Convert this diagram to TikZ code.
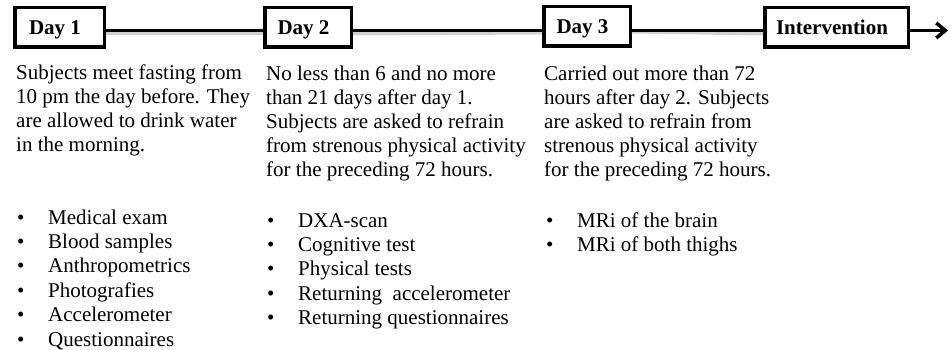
\documentclass[tikz,border=0pt]{standalone}
\usepackage{fontspec}
\setmainfont{Liberation Serif}
\usetikzlibrary{arrows.meta}

\tikzset{
  daybox/.style={draw=black, line width=3.5pt, fill=white, inner sep=0pt,
    minimum height=39.5pt, text height=14pt, text depth=0pt,
    font=\fontsize{21}{24}\selectfont\bfseries},
  link/.style={line width=3.5pt, black},
  linkshade/.style={line width=4pt, black!18},
  bodytext/.style={anchor=base west, inner sep=0pt,
    font=\fontsize{21}{23.8}\selectfont},
  listtext/.style={anchor=base west, inner sep=0pt,
    font=\fontsize{21}{24.4}\selectfont},
}

\newcommand{\itm}[1]{\makebox[31pt][l]{•}#1}
% box label set a little left of the box centre
\newcommand{\boxlabel}[1]{#1\hspace*{9pt}}

\begin{document}
\begin{tikzpicture}[x=1pt, y=-1pt]
  \useasboundingbox (0,0) rectangle (952,350);

  % timeline boxes
  \node[daybox, minimum width=89.5pt]  (d1)  at (59.5,27.5)  {\boxlabel{Day 1}};
  \node[daybox, minimum width=86.5pt]  (d2)  at (308,27.5)   {\boxlabel{Day 2}};
  \node[daybox, minimum width=86.5pt]  (d3)  at (587,26.5)   {\boxlabel{Day 3}};
  \node[daybox, minimum width=143.5pt] (int) at (836.5,27.5) {\boxlabel{Intervention}};
  \coordinate (tail) at (948,30.5);

  % soft shade below the timeline
  \draw[linkshade] ([yshift=-6pt]d1.east) -- ([yshift=-6pt]d2.west);
  \draw[linkshade] ([yshift=-6pt]d2.east) -- ([yshift=-6pt]d3.west);
  \draw[linkshade] ([yshift=-5pt]d3.east) -- ([yshift=-6pt]int.west);

  % timeline connectors
  \draw[link] ([yshift=-3pt]d1.east) -- ([yshift=-3pt]d2.west);
  \draw[link] ([yshift=-3pt]d2.east) -- ([yshift=-4pt]d3.west);
  \draw[link] ([yshift=-4pt]d3.east) -- ([yshift=-3pt]int.west);
  \draw[link, -{Straight Barb[length=9pt, width=15pt, line width=3.5pt]}]
    ([yshift=-3pt]int.east) -- (tail);

  % descriptions
  \node[bodytext] (t1) at (16,80) {\parbox[t]{250pt}{\raggedright
    Subjects meet fasting from\\
    10 pm the day before. They\\
    are allowed to drink water\\
    in the morning.}};
  \node[bodytext] (t2) at (266,81) {\parbox[t]{280pt}{\raggedright
    No less than 6 and no more\\
    than 21 days after day 1.\\
    Subjects are asked to refrain\\
    from strenous physical activity\\
    for the preceding 72 hours.}};
  \node[bodytext] (t3) at (544,81) {\parbox[t]{260pt}{\raggedright
    Carried out more than 72\\
    hours after day 2. Subjects\\
    are asked to refrain from\\
    strenous physical activity\\
    for the preceding 72 hours.}};

  % activity lists
  \node[listtext] (l1) at (17,224) {\parbox[t]{240pt}{\raggedright
    \itm{Medical exam}\\
    \itm{Blood samples}\\
    \itm{Anthropometrics}\\
    \itm{Photografies}\\
    \itm{Accelerometer}\\
    \itm{Questionnaires}}};
  \node[listtext] (l2) at (267,227) {\parbox[t]{280pt}{\raggedright
    \itm{DXA-scan}\\
    \itm{Cognitive test}\\
    \itm{Physical tests}\\
    \itm{Returning\ \ accelerometer}\\
    \itm{Returning questionnaires}}};
  \node[listtext] (l3) at (546,227) {\parbox[t]{240pt}{\raggedright
    \itm{MRi of the brain}\\
    \itm{MRi of both thighs}}};
\end{tikzpicture}
\end{document}
